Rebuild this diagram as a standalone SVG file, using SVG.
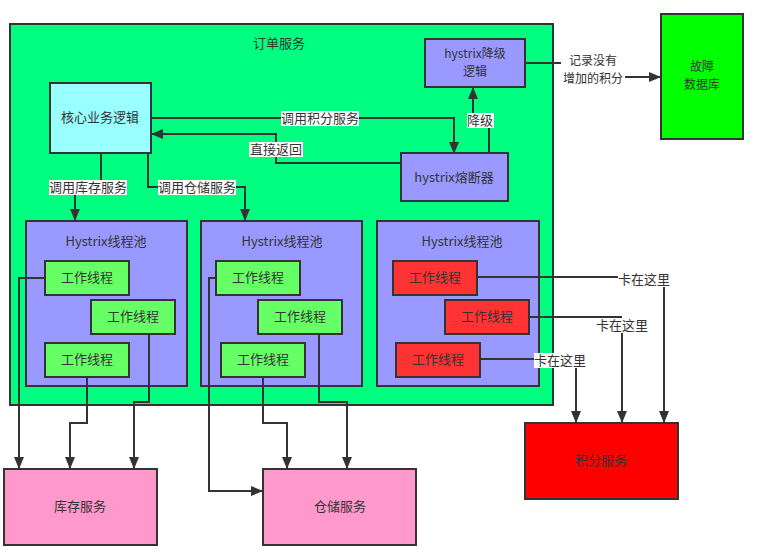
<svg xmlns="http://www.w3.org/2000/svg" width="761" height="556" viewBox="0 0 761 556">
<defs>
<marker id="ah" markerUnits="userSpaceOnUse" markerWidth="12" markerHeight="12" refX="11" refY="5" orient="auto" viewBox="0 0 12 10">
<path d="M0,0 L12,5 L0,10 Z" fill="#333"/>
</marker>
<style>
.box{stroke:#333;stroke-width:2}
.t{font-family:"Noto Sans CJK SC","Noto Sans",sans-serif;font-size:13px;fill:#333;text-anchor:middle}
.s{font-size:12px}
.c{fill:none;stroke:#333;stroke-width:2}
.a{marker-end:url(#ah)}
.lb{fill:#fff}
</style>
</defs>
<rect width="761" height="556" fill="#fff"/>
<g id="order-service">
<rect class="box" x="10" y="24" width="543" height="381" fill="#00ff80"/>
<text class="t" x="279" y="48">订单服务</text>
</g>
<g id="pool1">
<rect class="box" x="26" y="221" width="161" height="165" fill="#9999ff"/>
<text class="t" x="106" y="246">Hystrix线程池</text>
</g>
<g id="pool2">
<rect class="box" x="201" y="221" width="161" height="165" fill="#9999ff"/>
<text class="t" x="282" y="246">Hystrix线程池</text>
</g>
<g id="pool3">
<rect class="box" x="377" y="221" width="162" height="165" fill="#9999ff"/>
<text class="t" x="462" y="246">Hystrix线程池</text>
</g>
<g id="core">
<rect class="box" x="50" y="83" width="101" height="70" fill="#99ffff"/>
<text class="t" x="100" y="122">核心业务逻辑</text>
</g>
<g id="fallback">
<rect class="box" x="425" y="39" width="100" height="48" fill="#9999ff"/>
<text class="t s" x="475" y="58">hystrix降级</text>
<text class="t s" x="475" y="76">逻辑</text>
</g>
<g id="breaker">
<rect class="box" x="401" y="153" width="107" height="48" fill="#9999ff"/>
<text class="t" x="454" y="182">hystrix熔断器</text>
</g>
<g id="faultdb">
<rect class="box" x="661" y="14" width="82" height="125" fill="#00ff00"/>
<text class="t s" x="702" y="71">故障</text>
<text class="t s" x="702" y="89">数据库</text>
</g>
<g id="w1a"><rect class="box" x="45" y="261" width="84" height="34" fill="#66ff66"/><text class="t" x="87" y="282">工作线程</text></g>
<g id="w1b"><rect class="box" x="91" y="300" width="84" height="34" fill="#66ff66"/><text class="t" x="133" y="321">工作线程</text></g>
<g id="w1c"><rect class="box" x="45" y="343" width="84" height="34" fill="#66ff66"/><text class="t" x="87" y="364">工作线程</text></g>
<g id="w2a"><rect class="box" x="216" y="261" width="84" height="34" fill="#66ff66"/><text class="t" x="258" y="282">工作线程</text></g>
<g id="w2b"><rect class="box" x="258" y="300" width="84" height="34" fill="#66ff66"/><text class="t" x="300" y="321">工作线程</text></g>
<g id="w2c"><rect class="box" x="221" y="343" width="84" height="34" fill="#66ff66"/><text class="t" x="263" y="364">工作线程</text></g>
<g id="w3a"><rect class="box" x="393" y="261" width="84" height="34" fill="#ff3333"/><text class="t" x="435" y="282">工作线程</text></g>
<g id="w3b"><rect class="box" x="445" y="300" width="84" height="34" fill="#ff3333"/><text class="t" x="487" y="321">工作线程</text></g>
<g id="w3c"><rect class="box" x="396" y="343" width="84" height="34" fill="#ff3333"/><text class="t" x="438" y="364">工作线程</text></g>
<g id="inventory">
<rect class="box" x="4" y="469" width="153" height="76" fill="#ff99cc"/>
<text class="t" x="80" y="511">库存服务</text>
</g>
<g id="warehouse">
<rect class="box" x="263" y="469" width="153" height="76" fill="#ff99cc"/>
<text class="t" x="340" y="511">仓储服务</text>
</g>
<g id="points">
<rect class="box" x="525" y="423" width="153" height="76" fill="#ff0000"/>
<text class="t" x="601" y="465">积分服务</text>
</g>
<g id="connectors">
<path class="c a" d="M151,118 H454 V153"/>
<path class="c a" d="M401,163 H276 V134 H152"/>
<path class="c a" d="M489,153 V120 H473 V88"/>
<path class="c a" d="M525,63 H593 V77 H660"/>
<path class="c a" d="M101,153 V187 H75 V220"/>
<path class="c a" d="M148,153 V187 H245 V220"/>
<path class="c a" d="M45,278 H19 V468"/>
<path class="c a" d="M87,377 V423 H70 V468"/>
<path class="c a" d="M149,334 V402 H134 V468"/>
<path class="c a" d="M216,278 H209 V491 H262"/>
<path class="c a" d="M263,377 V423 H287 V468"/>
<path class="c a" d="M319,334 V402 H347 V468"/>
<path class="c" d="M477,277 H644"/>
<path class="c a" d="M664,279 V422"/>
<path class="c" d="M529,317 H622"/>
<path class="c a" d="M622,325 V422"/>
<path class="c" d="M480,359 H560"/>
<path class="c a" d="M576,360 V422"/>
<rect class="lb" x="281" y="111" width="78" height="15"/>
<text class="t" x="320" y="123">调用积分服务</text>
<rect class="lb" x="249" y="142" width="54" height="15"/>
<text class="t" x="276" y="154">直接返回</text>
<rect class="lb" x="49" y="180" width="78" height="15"/>
<text class="t" x="88" y="192">调用库存服务</text>
<rect class="lb" x="158" y="180" width="78" height="15"/>
<text class="t" x="197" y="192">调用仓储服务</text>
<rect class="lb" x="467" y="113" width="27" height="15"/>
<text class="t" x="480" y="125">降级</text>
<rect class="lb" x="561" y="53" width="64" height="34"/>
<text class="t s" x="593" y="65">记录没有</text>
<text class="t s" x="593" y="83">增加的积分</text>
<rect class="lb" x="618" y="272" width="52" height="15"/>
<text class="t" x="644" y="284">卡在这里</text>
<rect class="lb" x="596" y="318" width="52" height="15"/>
<text class="t" x="622" y="330">卡在这里</text>
<rect class="lb" x="534" y="353" width="52" height="15"/>
<text class="t" x="560" y="365">卡在这里</text>
</g>
</svg>
